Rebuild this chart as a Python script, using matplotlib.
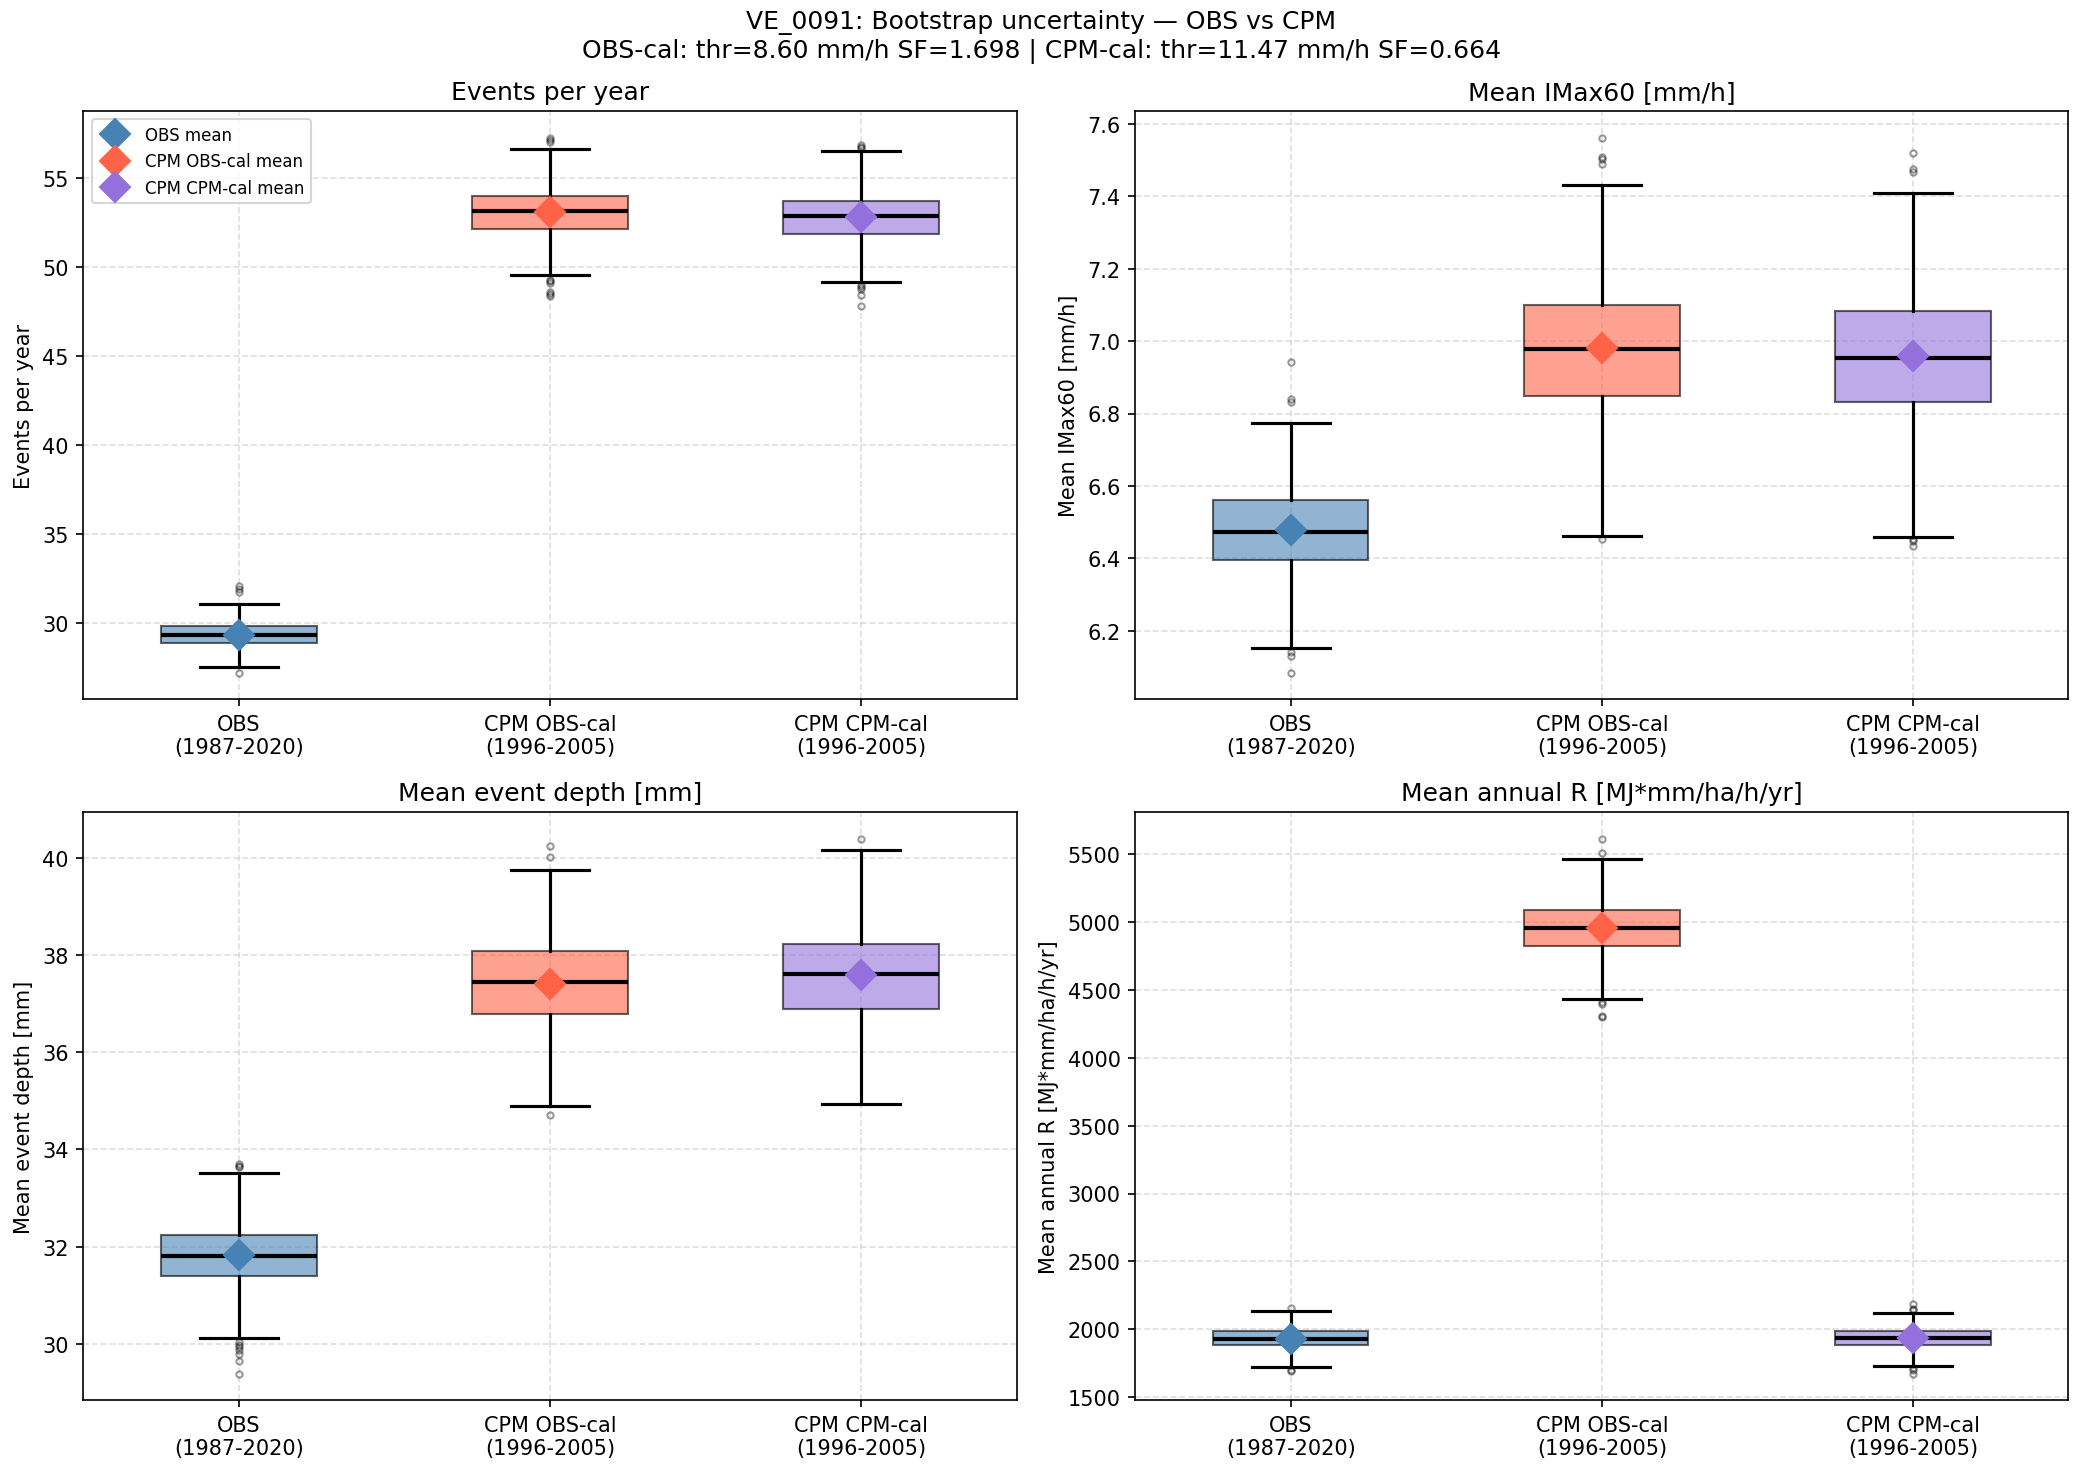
"""Bootstrap uncertainty boxplots, OBS vs CPM, station VE_0091."""
import matplotlib
matplotlib.use("Agg")
import matplotlib.pyplot as plt

groups = ["OBS\n(1987-2020)", "CPM OBS-cal\n(1996-2005)", "CPM CPM-cal\n(1996-2005)"]
mean_labels = ["OBS mean", "CPM OBS-cal mean", "CPM CPM-cal mean"]
colors = ["steelblue", "tomato", "mediumpurple"]

titles = ["Events per year", "Mean IMax60 [mm/h]", "Mean event depth [mm]",
          "Mean annual R [MJ*mm/ha/h/yr]"]
ylabels = ["Events per year", "Mean IMax60 [mm/h]", "Mean event depth [mm]",
           "Mean annual R [MJ*mm/ha/h/yr]"]

# per panel: one entry per group
q1 = [[28.89, 52.15, 51.88], [6.396, 6.848, 6.831], [31.39, 36.78, 36.90], [1881, 4823, 1881]]
med = [[29.36, 53.14, 52.88], [6.474, 6.977, 6.953], [31.80, 37.45, 37.62], [1930, 4959, 1933]]
q3 = [[29.85, 54.00, 53.72], [6.561, 7.099, 7.083], [32.25, 38.09, 38.23], [1985, 5087, 1985]]
whislo = [[27.52, 49.58, 49.18], [6.154, 6.462, 6.460], [30.13, 34.89, 34.93], [1724, 4430, 1733]]
whishi = [[31.10, 56.66, 56.50], [6.774, 7.431, 7.408], [33.52, 39.75, 40.16], [2137, 5462, 2122]]
means = [[29.35, 53.10, 52.83], [6.478, 6.980, 6.960], [31.83, 37.41, 37.58], [1930, 4959, 1933]]
fliers = [
    [[32.10, 31.90, 31.77, 27.23],
     [57.26, 57.15, 57.04, 49.30, 49.20, 49.10, 48.60, 48.50, 48.40],
     [56.85, 56.75, 56.70, 48.98, 48.87, 48.76, 48.43, 47.81]],
    [[6.943, 6.839, 6.831, 6.142, 6.131, 6.085],
     [7.561, 7.508, 7.503, 7.489, 6.454],
     [7.520, 7.474, 7.468, 6.453, 6.447, 6.434]],
    [[33.71, 33.67, 33.63, 30.03, 29.98, 29.93, 29.88, 29.80, 29.65, 29.39],
     [40.25, 40.02, 34.71],
     [40.39]],
    [[2157, 1703, 1689],
     [5613, 5509, 4413, 4398, 4311, 4302],
     [2189, 2151, 2140, 1715, 1700, 1674]],
]

fig, axes = plt.subplots(2, 2, figsize=(13.887, 9.833))
fig.suptitle("VE_0091: Bootstrap uncertainty \u2014 OBS vs CPM\n"
             "OBS-cal: thr=8.60 mm/h SF=1.698 | CPM-cal: thr=11.47 mm/h SF=0.664",
             fontsize=12, y=0.993, va="top")

for k, ax in enumerate(axes.flat):
    stats = []
    for g in range(3):
        stats.append(dict(q1=q1[k][g], med=med[k][g], q3=q3[k][g],
                          whislo=whislo[k][g], whishi=whishi[k][g],
                          fliers=fliers[k][g], mean=means[k][g]))
    bp = ax.bxp(stats, positions=[1, 2, 3], widths=0.5, patch_artist=True,
                medianprops=dict(color="black", linewidth=2),
                whiskerprops=dict(color="black", linewidth=1.5),
                capprops=dict(color="black", linewidth=1.5),
                flierprops=dict(marker="o", markersize=3, markerfacecolor="none",
                                markeredgecolor="black", alpha=0.4))
    for patch, c in zip(bp["boxes"], colors):
        patch.set_facecolor(c)
        patch.set_edgecolor("black")
        patch.set_alpha(0.6)
    for g in range(3):
        ax.plot(g + 1, means[k][g], "D", color=colors[g], markersize=10, zorder=5,
                label=mean_labels[g])
    ax.set_xticks([1, 2, 3])
    ax.set_xticklabels(groups)
    ax.set_title(titles[k])
    ax.set_ylabel(ylabels[k])
    ax.grid(True, linestyle="--", alpha=0.4)
    if k == 0:
        ax.legend(loc="upper left", fontsize=8)

fig.subplots_adjust(left=0.040, right=0.993, top=0.924, bottom=0.050,
                    wspace=0.127, hspace=0.192)
fig.savefig("out.png", dpi=150)
